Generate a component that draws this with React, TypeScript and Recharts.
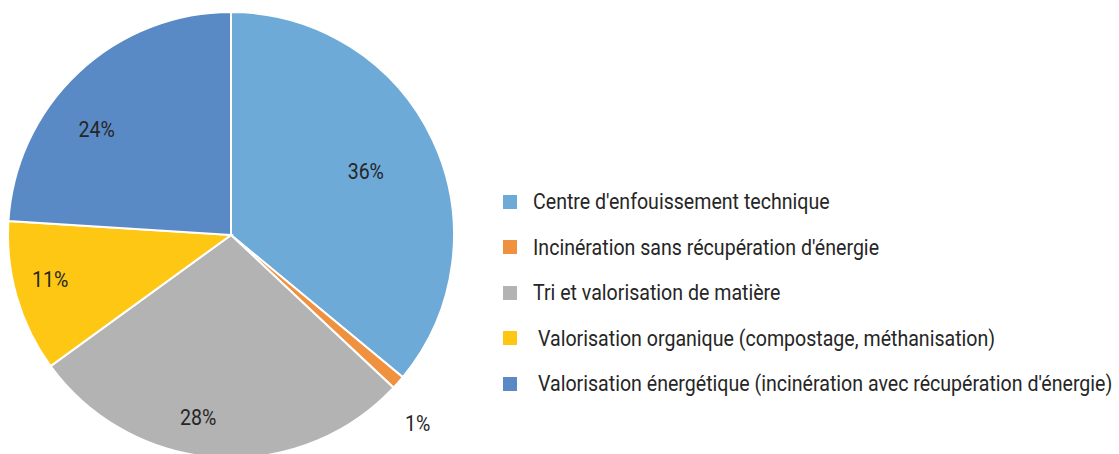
import React from "react";
import { PieChart, Pie, Cell, Legend } from "recharts";

const categories = [
  "Centre d'enfouissement technique",
  "Incinération sans récupération d'énergie",
  "Tri et valorisation de matière",
  "Valorisation organique (compostage, méthanisation)",
  "Valorisation énergétique (incinération avec récupération d'énergie)",
];
const values = [36, 1, 28, 11, 24];
const colors = ["#6EAAD8", "#F0913F", "#B3B3B3", "#FDC714", "#5A8AC5"];

// label placement (styling): radius factor and angle offset from slice mid-angle
const labelRadiusFactor = [0.668, 1.19, 0.834, 0.836, 0.765];
const labelAngleOffset = [0, -3.9, -6.6, -2.2, 8.8];
const legendIndent = [0, 0, 0, 5, 5];

const data = categories.map((name, i) => ({ name, value: values[i] }));

const FONT = "Roboto, sans-serif";
const SX = 0.89;

const RAD = Math.PI / 180;

const renderLabel = (props: any) => {
  const { cx, cy, midAngle, outerRadius, index, value } = props;
  const r = outerRadius * labelRadiusFactor[index];
  const a = midAngle + labelAngleOffset[index];
  const x = cx + r * Math.cos(-a * RAD);
  const y = cy + r * Math.sin(-a * RAD);
  return (
    <text
      x={0}
      y={0}
      transform={`translate(${x},${y}) scale(${SX},1)`}
      fill="#262626"
      textAnchor="middle"
      dominantBaseline="central"
      fontSize={22}
      fontFamily={FONT}
    >
      {`${value}%`}
    </text>
  );
};

const renderLegend = () => (
  <div style={{ fontFamily: FONT, fontSize: 22, color: "#262626" }}>
    {categories.map((c, i) => (
      <div
        key={c}
        style={{ display: "flex", alignItems: "center", height: 45.5 }}
      >
        <span
          style={{
            display: "inline-block",
            flexShrink: 0,
            width: 14,
            height: 14,
            background: colors[i],
            marginRight: 16 + legendIndent[i],
          }}
        />
        <span
          style={{
            whiteSpace: "nowrap",
            display: "inline-block",
            transform: `scaleX(${SX})`,
            transformOrigin: "left center",
          }}
        >
          {c}
        </span>
      </div>
    ))}
  </div>
);

export default function App() {
  return (
    <div style={{ position: "absolute", left: 0, top: 0, background: "#fff" }}>
      <PieChart width={1119} height={454}>
        <Pie
          data={data}
          dataKey="value"
          nameKey="name"
          cx={226}
          cy={230}
          outerRadius={223}
          startAngle={90}
          endAngle={-270}
          stroke="#fff"
          strokeWidth={2}
          label={renderLabel}
          labelLine={false}
          isAnimationActive={false}
        >
          {data.map((d, i) => (
            <Cell key={d.name} fill={colors[i]} />
          ))}
        </Pie>
        <Legend
          layout="vertical"
          content={renderLegend}
          wrapperStyle={{ left: 503, top: 179, width: 616 }}
        />
      </PieChart>
    </div>
  );
}
